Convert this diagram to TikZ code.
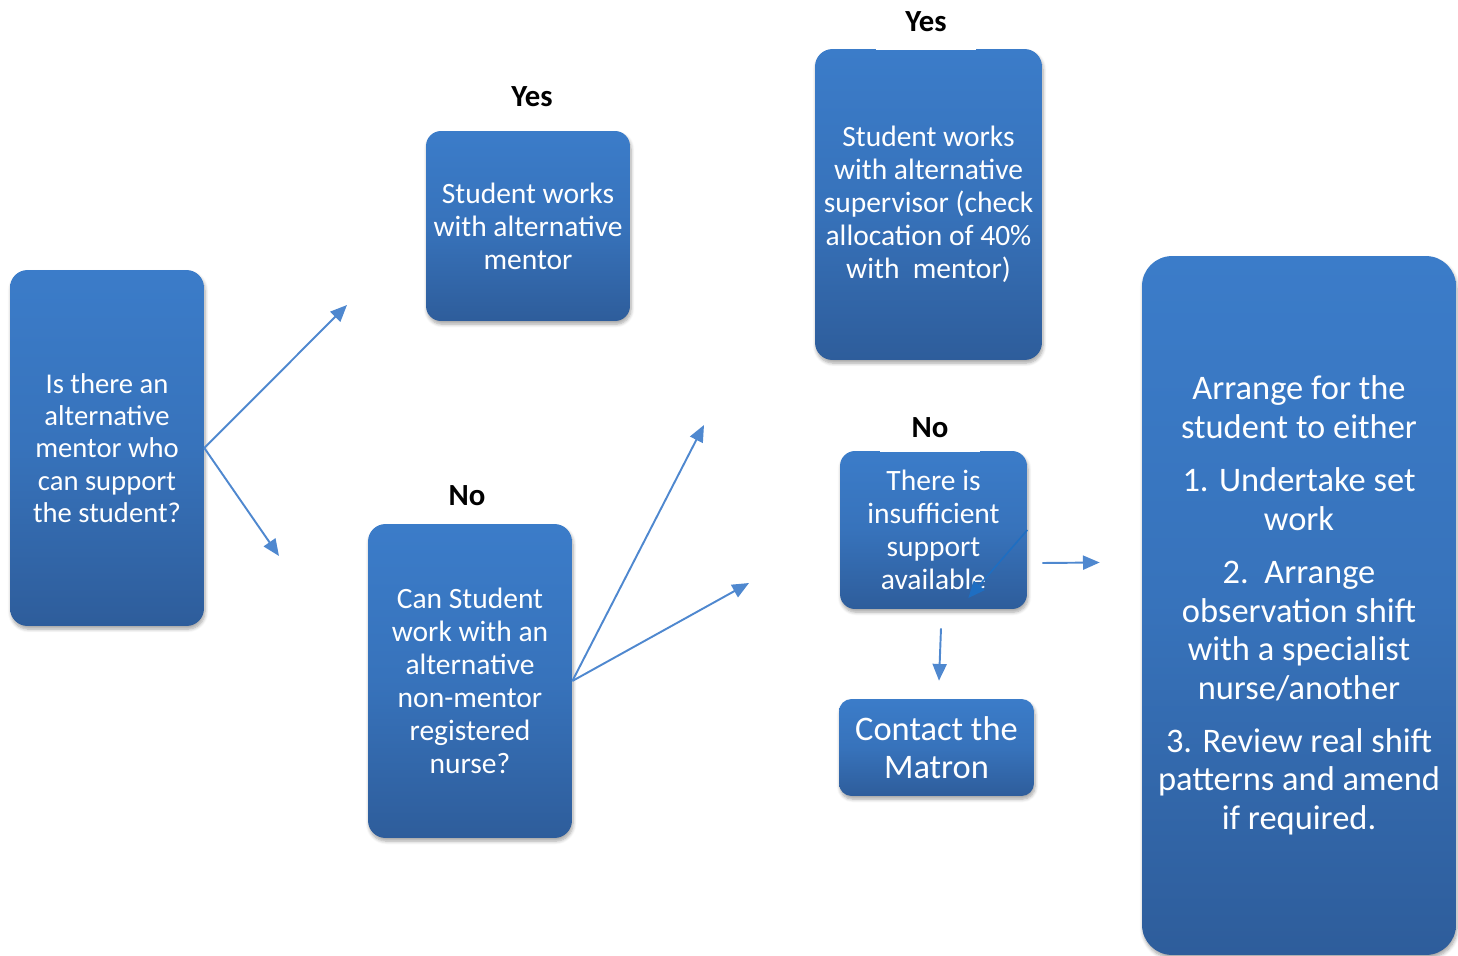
\documentclass[tikz,border=0pt]{standalone}
\usepackage{fontspec}
\setmainfont{Carlito}
\definecolor{boxTopColor}{HTML}{3B7CC9}
\definecolor{boxBottomColor}{HTML}{2E5D9B}
\definecolor{arrowColor}{HTML}{4F88CF}
\definecolor{innerArrowColor}{HTML}{1E6EC2}
\usetikzlibrary{arrows.meta, positioning, shadows.blur, calc}
\tikzset{
    x=0.02cm, y=-0.02cm,
    stepBox/.style = {rectangle, rounded corners=0.35cm, top color=boxTopColor, bottom color=boxBottomColor, middle color=boxTopColor!70!boxBottomColor, text=white, align=center, font=\fontsize{16.8}{18.8}\selectfont, inner sep=0pt, blur shadow={shadow blur steps=6, shadow xshift=0.6pt, shadow yshift=-1.8pt, shadow opacity=35}},
    bigBox/.style = {stepBox, font=\fontsize{19.6}{21.9}\selectfont},
    answerLabel/.style = {font=\fontsize{17.5}{19}\selectfont\bfseries, text=black, inner sep=0pt},
    gapLabel/.style = {answerLabel, fill=white, minimum width=2cm},
    flowPath/.style = {-{Triangle[length=9.5pt, width=8pt]}, draw, color=arrowColor, line width=1.1pt},
    innerPath/.style = {flowPath, color=innerArrowColor, line width=0.9pt}
}
\begin{document}
\begin{tikzpicture}
    \useasboundingbox (0,0) rectangle (1458,956);
    % question boxes
    \node(mentorQuestion)[stepBox, font=\fontsize{16.3}{18.4}\selectfont, minimum width=3.88cm, minimum height=7.12cm] at (107,448)
        {Is there an\\alternative\\mentor who\\can support\\the student?};
    \node(altMentor)[stepBox, rounded corners=0.3cm, minimum width=4.08cm, minimum height=3.8cm] at (528,226)
        {Student works\\with alternative\\mentor};
    \node(nurseQuestion)[stepBox, minimum width=4.08cm, minimum height=6.28cm] at (470,681)
        {Can Student\\work with an\\alternative\\non-mentor\\registered\\nurse?};
    \node(altSupervisor)[stepBox, minimum width=4.54cm, minimum height=6.22cm] at (928.5,204.5)
        {Student works\\with alternative\\supervisor (check\\allocation of 40\%\\with\ \ mentor)};
    \node(noSupport)[stepBox, rounded corners=0.3cm, minimum width=3.74cm, minimum height=3.16cm] at (933.5,530)
        {There is\\insufficient\\support\\available};
    \node(matron)[bigBox, rounded corners=0.25cm, minimum width=3.9cm, minimum height=1.94cm] at (936.5,747.5)
        {Contact the\\Matron};
    \node(arrangeWork)[bigBox, rounded corners=0.6cm, minimum width=6.28cm, minimum height=13.98cm] at (1299,605.5)
        {Arrange for the\\student to either\\[8.5pt]1. Undertake set\\work\\[8.5pt]2.\ \ Arrange\\observation shift\\with a specialist\\nurse/another\\[8.5pt]3. Review real shift\\patterns and amend\\if required.};
    % answers
    \node(yesOne)[answerLabel] at (532,97) {Yes};
    \node(noOne)[answerLabel] at (467,496) {No};
    \node(yesTwo)[gapLabel, minimum height=1.14cm] at (926,22) {Yes};
    \node(noTwo)[gapLabel, minimum height=0.98cm] at (930,428) {No};
    % loose arrow ends
    \coordinate(yesOneEnd) at (347,305);
    \coordinate(noOneEnd) at (279,556);
    \coordinate(yesTwoEnd) at (704,425);
    \coordinate(noTwoEnd) at (749,583);
    \path[flowPath] (mentorQuestion.east) to (yesOneEnd);
    \path[flowPath] (mentorQuestion.east) to (noOneEnd);
    \path[flowPath] (nurseQuestion.east) to (yesTwoEnd);
    \path[flowPath] (nurseQuestion.east) to (noTwoEnd);
    \path[innerPath] (noSupport.east) to ($(noSupport.east)+(-59,68)$);
    \path[flowPath] ($(noSupport.east)+(15,33)$) to ($(arrangeWork.west)+(-42,-43)$);
    \path[flowPath] ($(noSupport.south)+(7.5,19)$) to ($(matron.north)+(2.5,-18)$);
\end{tikzpicture}
\end{document}
